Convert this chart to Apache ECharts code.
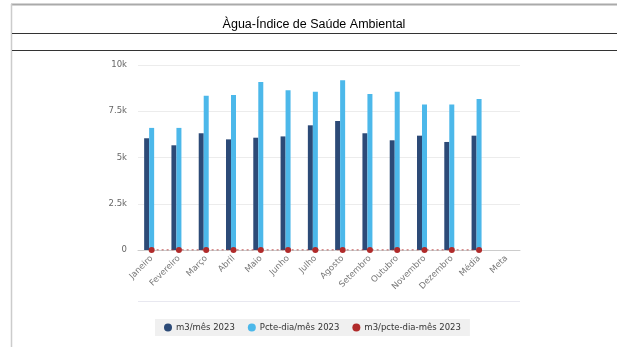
<!DOCTYPE html>
<html>
<head>
<meta charset="utf-8">
<script src="https://cdn.jsdelivr.net/npm/echarts@6/dist/echarts.min.js"></script>
<style>
  html, body { margin: 0; padding: 0; background: #fff; }
  #chart { width: 617px; height: 347px; }
</style>
</head>
<body>
<div id="chart"></div>
<script>
// Monthly water indicators, 2023
const categories = ['Janeiro', 'Fevereiro', 'Março', 'Abril', 'Maio', 'Junho', 'Julho',
  'Agosto', 'Setembro', 'Outubro', 'Novembro', 'Dezembro', 'Média', 'Meta'];
const m3Mes = [6040, 5660, 6310, 5980, 6070, 6140, 6740, 6970, 6310, 5930, 6180, 5840, 6180, null];
const pcteDiaMes = [6600, 6600, 8340, 8380, 9080, 8630, 8560, 9170, 8430, 8560, 7860, 7860, 8160, null];
const m3PcteDia = [0.92, 0.86, 0.76, 0.71, 0.67, 0.71, 0.79, 0.76, 0.75, 0.69, 0.79, 0.74, 0.76, null];
const yTickLabels = ['0', '2.5k', '5k', '7.5k', '10k'];
const seriesNames = ['m3/mês 2023', 'Pcte-dia/mês 2023', 'm3/pcte-dia-mês 2023'];
const titleText = 'Àgua-Índice de Saúde Ambiental';

const chart = echarts.init(document.getElementById('chart'), null, { renderer: 'canvas' });

const sans = 'DejaVu Sans';

chart.setOption({
  animation: false,
  backgroundColor: '#ffffff',
  graphic: [
    // panel frame
    { type: 'line', shape: { x1: 11, y1: 4.5, x2: 617, y2: 4.5 }, style: { stroke: '#aaaaaa', lineWidth: 2 } },
    { type: 'line', shape: { x1: 11.5, y1: 4, x2: 11.5, y2: 347 }, style: { stroke: '#cccccc', lineWidth: 1.5 } },
    { type: 'line', shape: { x1: 12, y1: 33.5, x2: 617, y2: 33.5 }, style: { stroke: '#333333', lineWidth: 1.2 } },
    { type: 'line', shape: { x1: 12, y1: 50.5, x2: 617, y2: 50.5 }, style: { stroke: '#333333', lineWidth: 1.2 } },
    {
      type: 'text', x: 314, y: 25,
      style: {
        text: titleText, fill: '#000', font: '12.5px "Liberation Sans", Arial, sans-serif',
        textAlign: 'center', textVerticalAlign: 'middle'
      }
    },
    // separator above the legend
    { type: 'line', shape: { x1: 138, y1: 301.5, x2: 520, y2: 301.5 }, style: { stroke: '#e8e8f0', lineWidth: 1 } }
  ],
  legend: {
    data: seriesNames,
    top: 319,
    left: 155,
    icon: 'circle',
    itemWidth: 8,
    itemHeight: 8,
    itemGap: 13,
    padding: [4, 9, 4, 9],
    backgroundColor: '#f0f0f0',
    textStyle: { fontFamily: sans, fontSize: 8.5, color: '#333', padding: [0, 0, 0, -1] }
  },
  grid: { left: 138, right: 97, top: 65, bottom: 97 },
  xAxis: {
    type: 'category',
    data: categories,
    axisLine: { lineStyle: { color: '#cccccc' } },
    axisTick: { show: false },
    axisLabel: {
      rotate: 45, interval: 0, margin: 7,
      fontFamily: sans, fontSize: 8.5, color: '#777'
    }
  },
  yAxis: {
    type: 'value',
    min: 0,
    max: 10000,
    interval: 2500,
    axisLine: { show: false },
    axisTick: { show: false },
    splitLine: { lineStyle: { color: '#ececec' } },
    axisLabel: {
      margin: 11,
      fontFamily: sans, fontSize: 8.5, color: '#666',
      formatter: (v) => yTickLabels[Math.round(v / 2500)]
    }
  },
  series: [
    {
      name: seriesNames[0], type: 'bar', data: m3Mes,
      barWidth: 5, barGap: '0%',
      itemStyle: { color: '#2c4a77' }
    },
    {
      name: seriesNames[1], type: 'bar', data: pcteDiaMes,
      barWidth: 5, barGap: '0%',
      itemStyle: { color: '#4cb8ea' }
    },
    {
      // empty slot keeping the column pair left of centre
      name: 'slot', type: 'bar', data: categories.map(() => null),
      barWidth: 5, barGap: '0%', silent: true
    },
    {
      name: seriesNames[2], type: 'line', data: m3PcteDia,
      symbol: 'circle', symbolSize: 6, z: 5,
      lineStyle: { color: '#b02a2a', width: 1, type: [2, 3] },
      itemStyle: { color: '#b02a2a' }
    }
  ]
});
</script>
</body>
</html>
